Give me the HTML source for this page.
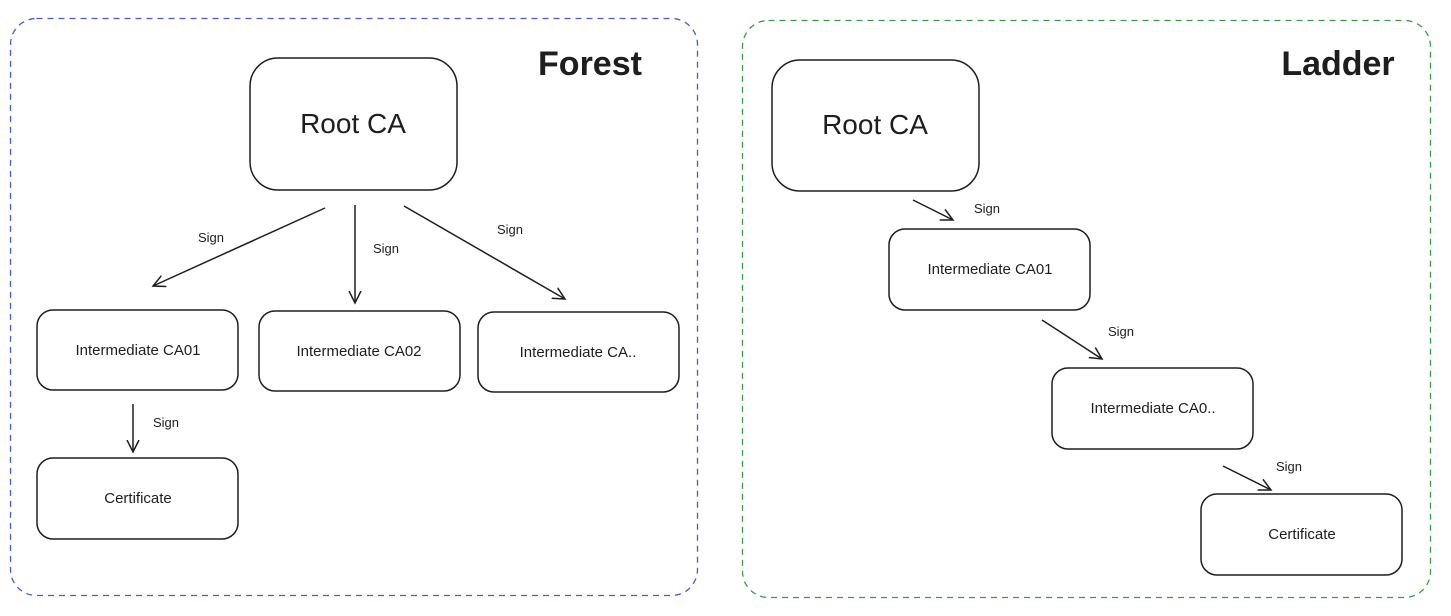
<!DOCTYPE html>
<html><head><meta charset="utf-8"><style>
html,body{margin:0;padding:0;background:#fff;}
svg text{font-family:"Liberation Sans",sans-serif;fill:#1e1e1e;}
</style></head><body>
<svg width="1451" height="611" viewBox="0 0 1451 611" xmlns="http://www.w3.org/2000/svg">
<defs>
<marker id="a" markerWidth="14" markerHeight="14" refX="12" refY="7" orient="auto" markerUnits="userSpaceOnUse">
<path d="M0,1 L12,7 L0,13" fill="none" stroke="#1e1e1e" stroke-width="1.5"/>
</marker>
</defs>
<rect x="10.5" y="18.5" width="687" height="577" rx="26" fill="none" stroke="#4a5bd4" stroke-width="1.3" stroke-dasharray="6,5"/>
<rect x="742.5" y="20.5" width="688" height="577" rx="26" fill="none" stroke="#3a9a4a" stroke-width="1.3" stroke-dasharray="6,5"/>
<text x="590" y="75" font-size="34" text-anchor="middle" font-weight="bold">Forest</text>
<text x="1338" y="75" font-size="34" text-anchor="middle" font-weight="bold">Ladder</text>
<g fill="none" stroke="#1e1e1e" stroke-width="1.5">
<rect x="250" y="58" width="207" height="132" rx="28"/>
<rect x="37" y="310" width="201" height="80" rx="16"/>
<rect x="259" y="311" width="201" height="80" rx="16"/>
<rect x="478" y="312" width="201" height="80" rx="16"/>
<rect x="37" y="458" width="201" height="81" rx="16"/>
<rect x="772" y="60" width="207" height="131" rx="28"/>
<rect x="889" y="229" width="201" height="81" rx="16"/>
<rect x="1052" y="368" width="201" height="81" rx="16"/>
<rect x="1201" y="494" width="201" height="81" rx="16"/>
<line x1="325" y1="208" x2="153" y2="286" marker-end="url(#a)"/>
<line x1="355" y1="205" x2="355" y2="303" marker-end="url(#a)"/>
<line x1="404" y1="206" x2="565" y2="299" marker-end="url(#a)"/>
<line x1="133" y1="404" x2="133" y2="452" marker-end="url(#a)"/>
<line x1="913" y1="200" x2="953" y2="220" marker-end="url(#a)"/>
<line x1="1042" y1="320" x2="1102" y2="359" marker-end="url(#a)"/>
<line x1="1223" y1="466" x2="1271" y2="490" marker-end="url(#a)"/>
</g>
<g font-size="28" text-anchor="middle">
<text x="353" y="133">Root CA</text>
<text x="875" y="134">Root CA</text>
</g>
<g font-size="15" text-anchor="middle">
<text x="138" y="355">Intermediate CA01</text>
<text x="359" y="356">Intermediate CA02</text>
<text x="578" y="357">Intermediate CA..</text>
<text x="138" y="503">Certificate</text>
<text x="990" y="274">Intermediate CA01</text>
<text x="1153" y="413">Intermediate CA0..</text>
<text x="1302" y="539">Certificate</text>
</g>
<g font-size="13" text-anchor="middle">
<text x="211" y="242">Sign</text>
<text x="386" y="253">Sign</text>
<text x="510" y="234">Sign</text>
<text x="166" y="427">Sign</text>
<text x="987" y="213">Sign</text>
<text x="1121" y="336">Sign</text>
<text x="1289" y="471">Sign</text>
</g>
</svg>
</body></html>
